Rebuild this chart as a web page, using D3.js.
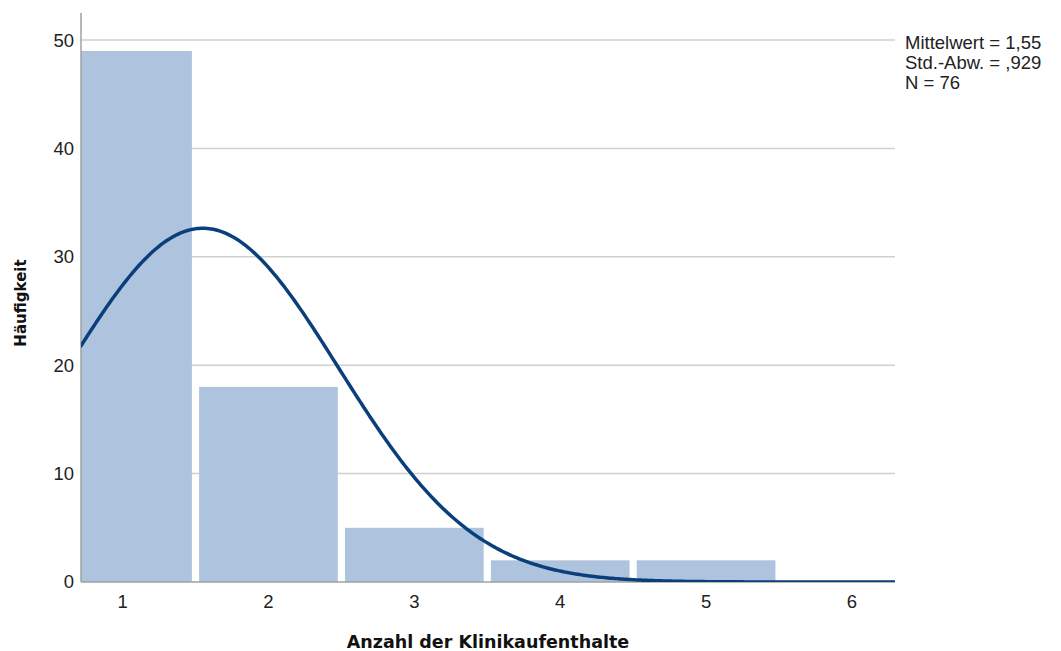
<!DOCTYPE html>
<html>
<head>
<meta charset="utf-8">
<script src="https://cdn.jsdelivr.net/npm/d3@7"></script>
<style>
  html, body { margin: 0; padding: 0; background: #ffffff; }
  svg { display: block; }
</style>
</head>
<body>
<svg id="chart" width="1061" height="651"></svg>
<script>
// Histogram: number of clinic stays, with fitted normal curve
const binCenters = [1, 2, 3, 4, 5, 6];
const counts = [49, 18, 5, 2, 2, 0];
const xTicks = [1, 2, 3, 4, 5, 6];
const yTicks = [0, 10, 20, 30, 40, 50];
const statLines = ["Mittelwert = 1,55", "Std.-Abw. = ,929", "N = 76"];
const mean = 1.55, sd = 0.929, n = 76, binWidth = 1;

const svg = d3.select("#chart");
const plotLeft = 81, plotRight = 895, plotTop = 13, plotBottom = 582;

const x = d3.scaleLinear().domain([0.715, 6.295]).range([plotLeft, plotRight]);
const y = d3.scaleLinear().domain([0, 52.5]).range([plotBottom, plotTop]);

svg.append("defs").append("clipPath").attr("id", "plotClip")
  .append("rect").attr("x", plotLeft).attr("y", plotTop)
  .attr("width", plotRight - plotLeft).attr("height", plotBottom - plotTop);

// gridlines
svg.append("g").selectAll("line").data(yTicks.filter(d => d > 0)).join("line")
  .attr("x1", plotLeft).attr("x2", plotRight)
  .attr("y1", d => y(d)).attr("y2", d => y(d))
  .attr("stroke", "#cfcfcf").attr("stroke-width", 1.5);

// bars
const gap = 3.6;
svg.append("g").attr("clip-path", "url(#plotClip)")
  .selectAll("rect").data(binCenters.map((c, i) => ({ c, v: counts[i] })).filter(d => d.v > 0))
  .join("rect")
  .attr("x", d => x(d.c - binWidth / 2) + gap)
  .attr("width", d => x(d.c + binWidth / 2) - x(d.c - binWidth / 2) - 2 * gap)
  .attr("y", d => y(d.v))
  .attr("height", d => y(0) - y(d.v))
  .attr("fill", "#aec3dd");

// axis lines
svg.append("line").attr("x1", plotLeft).attr("x2", plotLeft).attr("y1", plotTop).attr("y2", plotBottom)
  .attr("stroke", "#a0a0a0").attr("stroke-width", 1.5);
svg.append("line").attr("x1", plotLeft).attr("x2", plotRight).attr("y1", plotBottom).attr("y2", plotBottom)
  .attr("stroke", "#a0a0a0").attr("stroke-width", 1.5);

// normal curve
const [x0, x1] = x.domain();
const pts = d3.range(0, 401).map(i => {
  const xv = x0 + (x1 - x0) * i / 400;
  const z = (xv - mean) / sd;
  return [xv, n * binWidth / (sd * Math.sqrt(2 * Math.PI)) * Math.exp(-0.5 * z * z)];
});
svg.append("path").datum(pts)
  .attr("clip-path", "url(#plotClip)")
  .attr("d", d3.line().x(d => x(d[0])).y(d => y(d[1])))
  .attr("fill", "none").attr("stroke", "#0a3f7c").attr("stroke-width", 3.5)
  .attr("stroke-linecap", "round");

// tick labels
const font = "'Liberation Sans', Arial, sans-serif";
svg.append("g").selectAll("text").data(yTicks).join("text")
  .attr("x", 74).attr("y", d => y(d)).attr("dy", "0.35em")
  .attr("text-anchor", "end").attr("font-family", font).attr("font-size", 18.5)
  .attr("fill", "#222").text(d => d);
svg.append("g").selectAll("text").data(xTicks).join("text")
  .attr("x", d => x(d)).attr("y", 602).attr("dy", "0.35em")
  .attr("text-anchor", "middle").attr("font-family", font).attr("font-size", 18.5)
  .attr("fill", "#222").text(d => d);

// axis titles
const titleFont = "'DejaVu Sans', Verdana, sans-serif";
svg.append("text").attr("x", 488).attr("y", 642).attr("dy", "0.35em")
  .attr("text-anchor", "middle").attr("font-family", titleFont)
  .attr("font-weight", "bold").attr("font-size", 17.5).attr("fill", "#111")
  .text("Anzahl der Klinikaufenthalte");
svg.append("text").attr("transform", "translate(21,303) rotate(-90)")
  .attr("dy", "0.35em").attr("text-anchor", "middle").attr("font-family", titleFont)
  .attr("font-weight", "bold").attr("font-size", 15).attr("fill", "#111")
  .text("Häufigkeit");

// statistics
svg.append("g").selectAll("text").data(statLines).join("text")
  .attr("x", 905).attr("y", (d, i) => 43 + i * 20).attr("dy", "0.35em")
  .attr("font-family", font).attr("font-size", 18.5).attr("fill", "#222")
  .text(d => d);
</script>
</body>
</html>
